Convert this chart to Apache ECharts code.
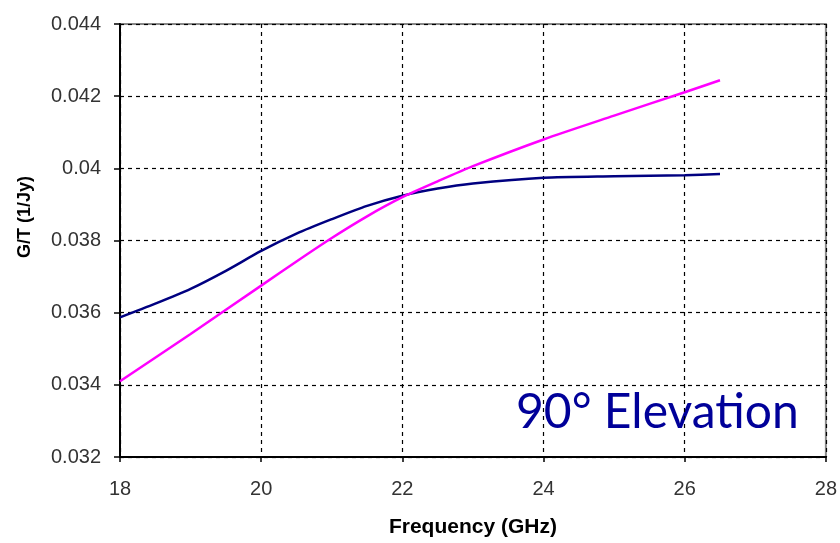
<!DOCTYPE html>
<html>
<head>
<meta charset="utf-8">
<script src="https://cdn.jsdelivr.net/npm/echarts@6/dist/echarts.min.js"></script>
<style>
  html, body { margin: 0; padding: 0; background: #fff; }
  #chart { width: 840px; height: 543px; }
</style>
</head>
<body>
<div id="chart"></div>
<script>
// G/T versus frequency at 90° elevation
const freqA = [18, 18.5, 19, 19.5, 20, 20.5, 21, 21.5, 22, 22.5, 23, 24, 25, 26, 26.5];
const gtNavy = [0.03587, 0.03625, 0.03666, 0.03716, 0.03771, 0.03819, 0.03859, 0.03896, 0.03924, 0.03944, 0.03958, 0.03974, 0.03978, 0.03981, 0.03984];

const freqB = [18, 19, 20, 20.5, 21, 21.5, 22, 22.5, 23, 24, 25, 26, 26.5];
const gtMagenta = [0.0341, 0.03541, 0.03675, 0.03742, 0.03807, 0.03867, 0.0392, 0.03964, 0.04006, 0.0408, 0.04146, 0.04211, 0.04244];

const xTicks = [18, 20, 22, 24, 26, 28];
const yTicks = [0.032, 0.034, 0.036, 0.038, 0.04, 0.042, 0.044];

const pairs = (xs, ys) => xs.map((x, i) => [x, ys[i]]);

const chart = echarts.init(document.getElementById('chart'));
const tickFont = { fontFamily: 'Liberation Sans, Arial, sans-serif', fontSize: 20, color: '#333' };

chart.setOption({
  animation: false,
  grid: {
    left: 120, right: 14, top: 24, bottom: 83,
    show: true, borderColor: '#888', borderWidth: 2, backgroundColor: '#fff'
  },
  xAxis: {
    type: 'value',
    min: xTicks[0], max: xTicks[xTicks.length - 1], interval: 2,
    axisLine: { show: true, lineStyle: { color: '#000', width: 2 } },
    axisTick: { show: true, length: 5, lineStyle: { color: '#000', width: 1.5 } },
    axisLabel: Object.assign({ margin: 22 }, tickFont),
    splitLine: { show: true, lineStyle: { color: '#000', type: [4, 4], width: 1.2 } },
    name: 'Frequency (GHz)', nameLocation: 'middle', nameGap: 60,
    nameTextStyle: { fontFamily: 'Liberation Sans, Arial, sans-serif', fontSize: 21, fontWeight: 'bold', color: '#000' }
  },
  yAxis: {
    type: 'value',
    min: yTicks[0], max: yTicks[yTicks.length - 1], interval: 0.002,
    axisLine: { show: true, lineStyle: { color: '#000', width: 2 } },
    axisTick: { show: true, length: 6, lineStyle: { color: '#000', width: 1.5 } },
    axisLabel: Object.assign({ margin: 19, formatter: v => String(+v.toFixed(3)) }, tickFont),
    splitLine: { show: true, lineStyle: { color: '#000', type: [4, 4], width: 1.2 } }
  },
  graphic: [
    {
      type: 'text', x: 25, y: 217, rotation: Math.PI / 2,
      style: {
        text: 'G/T (1/Jy)', fill: '#000', align: 'center', verticalAlign: 'middle',
        font: 'bold 18px "Liberation Sans", Arial, sans-serif'
      }
    },
    {
      type: 'text', left: 516, top: 389,
      style: {
        text: '90° Elevation', fill: '#000099',
        font: '48px Lato, "Open Sans", sans-serif'
      }
    }
  ],
  series: [
    {
      type: 'line', data: pairs(freqA, gtNavy), smooth: 0.25, symbol: 'none',
      lineStyle: { color: '#000080', width: 2.5 }, z: 3
    },
    {
      type: 'line', data: pairs(freqB, gtMagenta), smooth: 0.25, symbol: 'none',
      lineStyle: { color: '#ff00ff', width: 2.5 }, z: 4
    }
  ]
});
</script>
</body>
</html>
